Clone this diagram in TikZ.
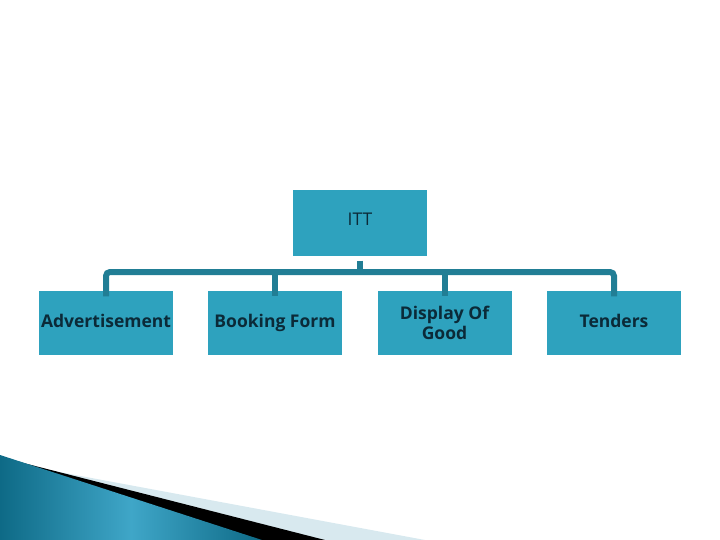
\documentclass[tikz,border=0pt]{standalone}
\usepackage{fontspec}
\setmainfont{Open Sans}
\definecolor{boxfill}{HTML}{2EA2BE}
\definecolor{linec}{HTML}{217E95}
\definecolor{txt}{HTML}{0B2A38}
\definecolor{lightband}{HTML}{D8E9EF}
\definecolor{bluedark}{HTML}{0E6A86}
\definecolor{bluelight}{HTML}{3FA6C8}
\begin{document}
\begin{tikzpicture}[x=1pt,y=-1pt,
  boxbase/.style={fill=boxfill,draw=none,minimum width=134pt,minimum height=64pt,inner sep=0pt,
    text=txt,font=\fontsize{17.5}{20}\selectfont\bfseries,align=center},
  box/.style={boxbase,text height=12.5pt,text depth=3.5pt},
  conn/.style={draw=linec,line width=6pt,rounded corners=4pt}]
\useasboundingbox (0,0) rectangle (720,540);
% decoration
\fill[lightband] (0,461) -- (425,540) -- (0,540) -- cycle;
\fill[black] (0,457) -- (325,540) -- (0,540) -- cycle;
\shade[left color=bluedark,right color=bluedark,middle color=bluelight] (0,455) -- (262,540) -- (0,540) -- cycle;
% nodes
\node[box,minimum height=65pt,font=\fontsize{17.5}{20}\selectfont] (itt) at (360,223) {\raisebox{2pt}{ITT}};
\node[box] (adv) at (106,322.5) {Advertisement};
\node[box] (book) at (275,322.5) {Booking Form};
\node[boxbase] (disp) at (444.5,322.5) {Display Of\\Good};
\node[box] (tend) at (614,322.5) {Tenders};
% connectors
\coordinate (bar) at (360,272);
\draw[linec,line width=6pt] ([yshift=-5pt]itt.south) -- (itt.south |- bar);
\draw[conn] ([yshift=-6pt]adv.north) -- (adv.north |- bar) -- (tend.north |- bar) -- ([yshift=-6pt]tend.north);
\draw[linec,line width=6pt] (book.north |- bar) -- ([yshift=-6pt]book.north);
\draw[linec,line width=6pt] (disp.north |- bar) -- ([yshift=-6pt]disp.north);
\end{tikzpicture}
\end{document}
